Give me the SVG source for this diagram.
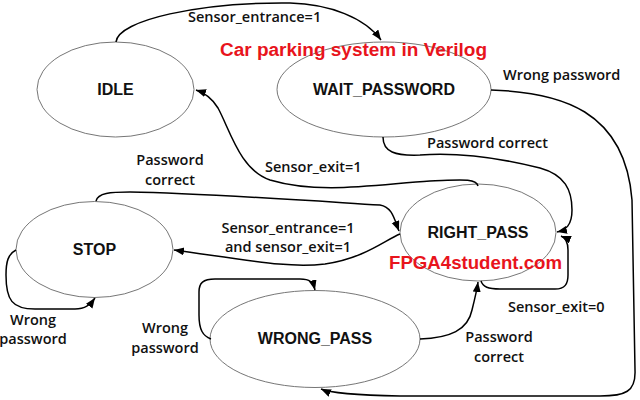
<svg xmlns="http://www.w3.org/2000/svg" width="640" height="400" viewBox="0 0 640 400">
<style>
.st{fill:#fff;stroke:#666;stroke-width:0.9}
.sn{font-family:"Liberation Sans",Arial,sans-serif;font-weight:bold;font-size:16px;fill:#111;text-anchor:middle}
.lb{font-family:"Open Sans","Noto Sans",sans-serif;font-weight:600;font-size:14.5px;fill:#111}
.lc{text-anchor:middle}
.cn{fill:none;stroke:#000;stroke-width:1.5;marker-end:url(#ah)}
.rd{font-family:"Liberation Sans",Arial,sans-serif;font-weight:bold;fill:#e8141c}
</style>
<defs>
<marker id="ah" markerUnits="userSpaceOnUse" markerWidth="11" markerHeight="9" refX="10" refY="4" orient="auto">
<path d="M0,0 L10,4 L0,8 z" fill="#000"/>
</marker>
</defs>
<rect width="640" height="400" fill="#fff"/>
<g id="IDLE"><ellipse class="st" cx="115.5" cy="89.5" rx="78.5" ry="47.5"/><text class="sn" x="115.5" y="95">IDLE</text></g>
<g id="WAIT_PASSWORD"><ellipse class="st" cx="384" cy="89.5" rx="107" ry="47.5"/><text class="sn" x="384" y="95">WAIT_PASSWORD</text></g>
<g id="STOP"><ellipse class="st" cx="94.5" cy="249.5" rx="78.5" ry="48"/><text class="sn" x="94.5" y="255">STOP</text></g>
<g id="RIGHT_PASS"><ellipse class="st" cx="478" cy="232.5" rx="78" ry="48.5"/><text class="sn" x="478" y="238">RIGHT_PASS</text></g>
<g id="WRONG_PASS"><ellipse class="st" cx="315" cy="339" rx="105" ry="48.5"/><text class="sn" x="315" y="344">WRONG_PASS</text></g>
<g id="connectors">
<path class="cn" d="M116,42 C118,20 200,2 290,3 C330,4 365,18 381,40"/>
<path class="cn" d="M491,90 C560,92 625,110 632,200 L635,370 C636,392 625,396 600,396 L400,396 C350,395 330,393 321,389"/>
<path class="cn" d="M383,137 C383,152 395,156 420,155 C460,152 500,158 540,168 C565,175 572,190 572,210 C572,225 566,230 557,232"/>
<path class="cn" d="M478,186 C476,178 460,180 430,181 C380,184 320,195 270,180 C240,170 230,130 218,108 C212,98 205,93 196,90"/>
<path class="cn" d="M96,201 C98,193 110,192 130,192 C200,193 300,200 380,205 C392,207 394,218 399,231"/>
<path class="cn" d="M400,234 C385,240 365,258 325,264 C290,268 260,262 174,250"/>
<path class="cn" d="M16,250 C8,254 6,262 6,275 C6,300 12,309 35,309 L75,309 C85,309 90,305 95,298"/>
<path class="cn" d="M211,339 C203,336 199,330 199,315 L199,292 C199,283 203,279 215,279 L300,279 C310,279 313,282 315,290"/>
<path class="cn" d="M420,339 C450,338 468,330 472,310 C475,298 477,290 478,282"/>
<path class="cn" d="M481,281 C483,287 488,289 500,289 L555,289 C565,289 568,284 568,275 L568,250 C568,242 566,238 561,236"/>
</g>
<g id="labels">
<text class="lb" x="188" y="22">Sensor_entrance=1</text>
<text class="lb" x="503" y="80">Wrong password</text>
<text class="lb" x="427" y="148">Password correct</text>
<text class="lb" x="265" y="172">Sensor_exit=1</text>
<text class="lb lc" x="170" y="165">Password</text>
<text class="lb lc" x="170" y="185">correct</text>
<text class="lb lc" x="288" y="233">Sensor_entrance=1</text>
<text class="lb lc" x="288" y="252">and sensor_exit=1</text>
<text class="lb lc" x="33" y="325">Wrong</text>
<text class="lb lc" x="33" y="344">password</text>
<text class="lb lc" x="165" y="333">Wrong</text>
<text class="lb lc" x="165" y="353">password</text>
<text class="lb" x="508" y="312">Sensor_exit=0</text>
<text class="lb lc" x="499" y="342">Password</text>
<text class="lb lc" x="499" y="362">correct</text>
</g>
<text class="rd" x="220" y="56" font-size="17.5" textLength="267" lengthAdjust="spacingAndGlyphs">Car parking system in Verilog</text>
<text class="rd" x="389" y="269" font-size="18" textLength="173" lengthAdjust="spacingAndGlyphs">FPGA4student.com</text>
</svg>
